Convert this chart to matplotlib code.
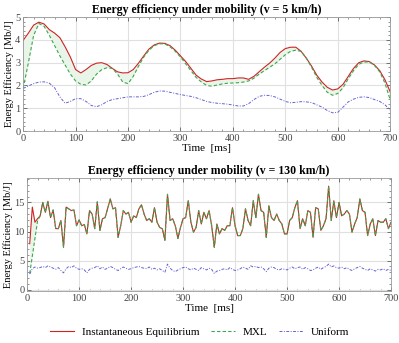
import numpy as np
import matplotlib
matplotlib.use("Agg")
import matplotlib.pyplot as plt
from matplotlib.ticker import MultipleLocator

plt.rcParams["font.family"] = ["Liberation Serif", "DejaVu Serif"]

# --- datos: v = 5 km/h (cada 10 ms) ---
t_lento = np.arange(0, 701, 10)
ie_lento = [3.98, 4.3, 4.65, 4.78, 4.7, 4.45, 4.3, 4.1, 3.7, 3.25,
            2.7, 2.55, 2.7, 2.88, 2.98, 3.0, 2.92, 2.75, 2.6, 2.55,
            2.56, 2.7, 2.98, 3.3, 3.6, 3.78, 3.86, 3.85, 3.75, 3.55,
            3.3, 3.05, 2.75, 2.45, 2.28, 2.17, 2.2, 2.25, 2.27, 2.3,
            2.3, 2.33, 2.33, 2.27, 2.4, 2.6, 2.8, 2.98, 3.2, 3.45,
            3.62, 3.68, 3.68, 3.5, 3.2, 2.85, 2.45, 2.15, 1.92, 1.8,
            1.85, 2.05, 2.4, 2.75, 3.0, 3.08, 3.05, 2.9, 2.65, 2.25,
            1.72]
mxl_lento = [1.87, 3.0, 4.2, 4.72, 4.6, 4.2, 3.75, 3.3, 2.9, 2.5,
             2.2, 2.05, 2.02, 2.2, 2.5, 2.7, 2.78, 2.75, 2.5, 2.15,
             2.08, 2.4, 2.85, 3.25, 3.55, 3.75, 3.83, 3.83, 3.7, 3.5,
             3.25, 2.95, 2.65, 2.35, 2.15, 2.0, 1.97, 2.02, 2.07, 2.1,
             2.11, 2.12, 2.15, 2.2, 2.32, 2.5, 2.65, 2.8, 2.95, 3.15,
             3.35, 3.5, 3.55, 3.5, 3.2, 2.8, 2.35, 2.0, 1.7, 1.57,
             1.65, 1.9, 2.3, 2.65, 2.93, 3.03, 3.03, 2.88, 2.6, 2.1,
             1.36]
unif_lento = [1.87, 1.98, 2.08, 2.15, 2.16, 2.1, 1.9, 1.5, 1.22, 1.3,
              1.42, 1.42, 1.3, 1.12, 1.07, 1.15, 1.3, 1.38, 1.42, 1.46,
              1.5, 1.5, 1.5, 1.52, 1.6, 1.7, 1.76, 1.75, 1.7, 1.65,
              1.6, 1.56, 1.52, 1.46, 1.38, 1.3, 1.25, 1.22, 1.2, 1.18,
              1.14, 1.1, 1.1, 1.2, 1.38, 1.52, 1.57, 1.56, 1.5, 1.4,
              1.3, 1.24, 1.26, 1.29, 1.28, 1.25, 1.15, 1.05, 0.9, 0.8,
              0.82, 1.05, 1.28, 1.4, 1.48, 1.5, 1.47, 1.38, 1.3, 1.15,
              0.92]

# --- datos: v = 130 km/h (cada 5 ms) ---
t_rapido = np.arange(5, 701, 5)
ie_rapido = [7.9, 14.2, 11.6, 12.2, 12.7, 15.0, 13.3, 15.2, 12.4, 13.7,
             10.5, 10.5, 11.9, 7.3, 14.2, 13.9, 13.6, 13.7, 11.0, 12.0,
             11.0, 11.2, 9.6, 13.6, 13.0, 10.5, 15.1, 10.2, 12.2, 12.4,
             14.0, 15.6, 13.9, 14.1, 9.0, 11.0, 13.6, 13.0, 13.3, 11.6,
             12.7, 12.4, 13.9, 14.6, 13.0, 11.9, 12.2, 11.6, 14.1, 11.6,
             10.7, 10.5, 8.5, 16.4, 11.9, 12.2, 11.0, 8.8, 10.7, 12.2,
             12.4, 15.3, 11.6, 9.9, 10.7, 13.6, 11.3, 13.3, 12.2, 13.6,
             11.0, 7.3, 11.3, 9.6, 10.5, 10.2, 11.0, 11.0, 14.1, 11.0,
             9.3, 9.3, 10.5, 13.9, 11.9, 11.0, 15.3, 12.4, 16.4, 13.6,
             13.3, 9.0, 14.4, 12.4, 11.9, 13.0, 11.9, 11.3, 9.6, 9.6,
             11.9, 12.4, 14.1, 15.3, 10.5, 12.2, 11.0, 13.6, 13.3, 9.0,
             14.1, 13.9, 10.2, 11.0, 12.2, 17.8, 11.9, 15.3, 12.4, 15.0,
             12.7, 13.0, 13.6, 13.0, 9.9, 11.3, 12.4, 15.6, 13.6, 13.3,
             9.3, 11.3, 12.2, 9.3, 11.9, 11.6, 11.6, 12.2, 10.5, 11.6]
mxl_rapido = [2.8, 5.8, 8.8, 11.8] + ie_rapido[4:]
unif_rapido = [2.7, 3.6, 3.9, 3.7, 3.8, 4.0, 3.8, 4.1, 3.9, 3.7,
               3.5, 3.8, 3.3, 2.9, 3.6, 4.0, 3.8, 4.1, 3.7, 3.5,
               3.6, 3.4, 2.9, 3.5, 3.7, 3.8, 4.1, 3.6, 3.9, 3.5,
               3.7, 4.0, 3.8, 3.5, 3.3, 3.6, 3.9, 3.7, 3.5, 3.6,
               3.8, 3.9, 4.0, 3.8, 3.7, 3.6, 3.9, 3.5, 3.7, 3.4,
               3.6, 3.3, 3.0, 4.4, 3.7, 3.3, 3.1, 3.4, 3.6, 3.8,
               3.9, 3.6, 3.4, 3.7, 3.5, 3.3, 3.8, 3.6, 3.4, 3.7,
               3.5, 2.8, 3.2, 3.3, 3.5, 3.6, 3.4, 3.8, 3.5, 3.3,
               3.4, 3.6, 3.9, 3.7, 3.5, 4.1, 3.9, 4.0, 3.8, 3.9,
               3.6, 3.1, 3.7, 3.9, 3.8, 3.5, 3.4, 3.6, 3.5, 3.4,
               3.7, 3.9, 3.6, 3.8, 3.9, 3.5, 3.8, 3.6, 3.3, 3.4,
               3.7, 3.9, 3.5, 3.8, 4.0, 4.4, 3.9, 4.1, 3.8, 3.7,
               3.9, 3.6, 3.8, 3.5, 3.3, 3.6, 3.8, 4.0, 3.7, 3.5,
               3.3, 3.6, 3.4, 3.2, 3.5, 3.4, 3.6, 3.3, 3.5, 3.3]

ROJO = "#cc2424"
VERDE = "#3fa54e"
AZUL = "#6262d4"
RELLENO = "#e9f5e9"


def dibujar(ax, t, ie, mxl, unif, titulo):
    ax.fill_between(t, ie, mxl, color=RELLENO, lw=0)
    ax.plot(t, ie, color=ROJO, lw=0.8, label="Instantaneous Equilibrium")
    ax.plot(t, mxl, color=VERDE, lw=0.8, ls=(0, (3, 2)), label="MXL")
    ax.plot(t, unif, color=AZUL, lw=0.7, ls=(0, (3, 1.5, 1, 1.5)), label="Uniform")
    ax.set_xlim(0, 700)
    ax.set_title(titulo, fontsize=8.5, fontweight="bold", pad=3)
    ax.set_xlabel("Time  [ms]", fontsize=8, labelpad=1)
    ax.set_ylabel("Energy Efficiency [Mb/J]", fontsize=7.5, labelpad=1)
    ax.xaxis.set_major_locator(MultipleLocator(100))
    ax.xaxis.set_minor_locator(MultipleLocator(20))
    ax.grid(True, which="major", color="#e0e0e0", lw=0.8)
    ax.tick_params(which="both", direction="in", top=True, right=True,
                   labelsize=7.5, colors="#444444", pad=2)
    ax.tick_params(which="major", length=3, width=0.5)
    ax.tick_params(which="minor", length=1.5, width=0.4)
    for s in ax.spines.values():
        s.set_color("#999999")
        s.set_linewidth(0.6)
    ax.set_axisbelow(True)


fig = plt.figure(figsize=(3.99, 3.43), dpi=100)
ax1 = fig.add_axes([0.058, 0.618, 0.92, 0.332])
ax2 = fig.add_axes([0.068, 0.152, 0.912, 0.329])

dibujar(ax1, t_lento, ie_lento, mxl_lento, unif_lento,
        "Energy efficiency under mobility (v = 5 km/h)")
ax1.set_ylim(0, 5)
ax1.yaxis.set_major_locator(MultipleLocator(1))
ax1.yaxis.set_minor_locator(MultipleLocator(0.2))

dibujar(ax2, t_rapido, ie_rapido, mxl_rapido, unif_rapido,
        "Energy efficiency under mobility (v = 130 km/h)")
ax2.set_ylim(-0.2, 19.2)
ax2.yaxis.set_major_locator(MultipleLocator(5))
ax2.yaxis.set_minor_locator(MultipleLocator(1))

h, l = ax2.get_legend_handles_labels()
fig.legend(h, l, loc="center", bbox_to_anchor=(0.5, 0.032), ncol=3,
           frameon=False, fontsize=8, handlelength=2.2, columnspacing=1.0,
           handletextpad=0.7)

fig.savefig("out.png", dpi=100)
